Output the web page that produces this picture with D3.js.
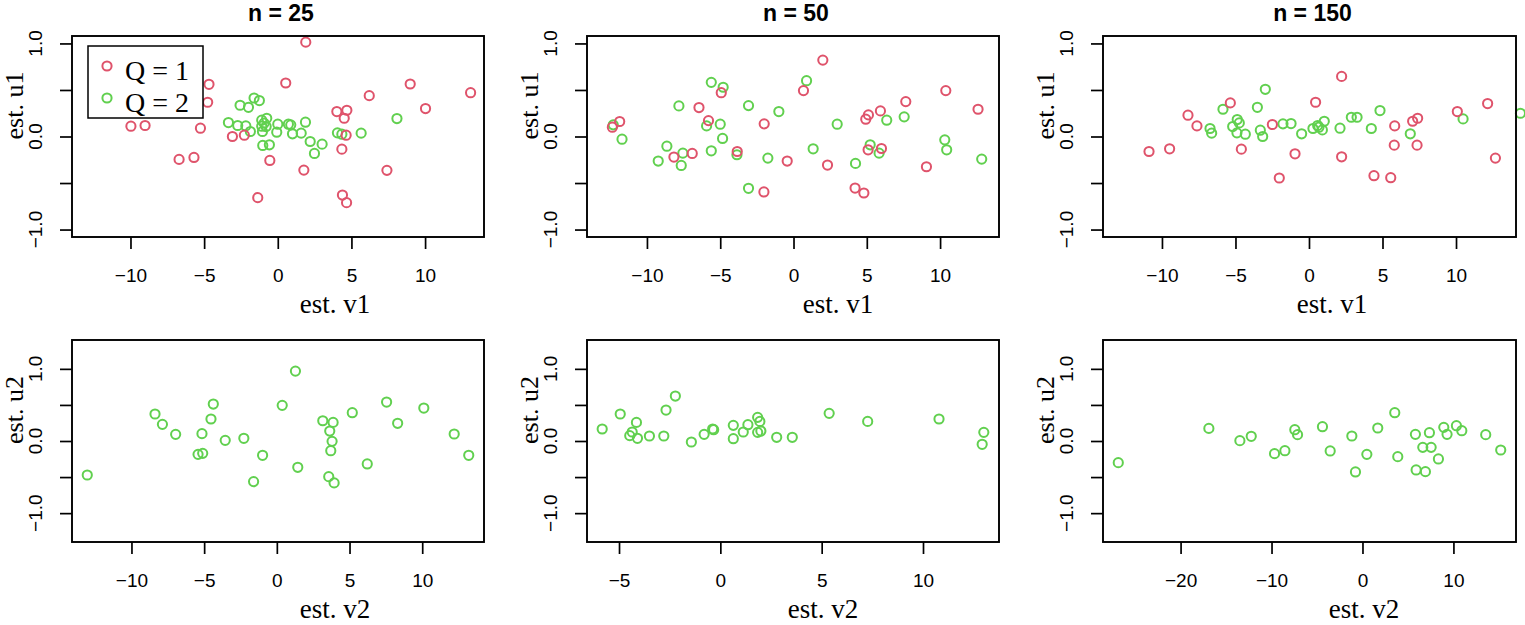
<!DOCTYPE html>
<html>
<head>
<meta charset="utf-8">
<script src="https://cdn.jsdelivr.net/npm/d3@7"></script>
<style>
  body { margin: 0; background: white; }
  svg { display: block; }
</style>
</head>
<body>
<div id="chart"></div>
<script>
// ---- data: [est. v, est. u] pairs ----

// n = 25, first component
const n25_u1_q1 = [[1.90,1.014],[-4.67,0.561],[-4.76,0.368],[0.54,0.575],[8.99,0.564],[13.09,0.471],
  [6.21,0.439],[10.03,0.300],[4.01,0.268],[4.69,0.282],[4.51,0.196],[-9.97,0.111],[-9.01,0.118],
  [-5.25,0.089],[-3.08,0.0],[-2.27,0.014],[4.64,0.014],[4.35,-0.136],[-6.70,-0.246],[-5.69,-0.225],
  [-0.54,-0.257],[1.77,-0.361],[7.41,-0.364],[-1.36,-0.657],[4.39,-0.629],[4.67,-0.711]];
const n25_u1_q2 = [[-1.61,0.414],[-1.25,0.386],[-2.56,0.336],[-1.99,0.314],[-3.35,0.150],[-2.72,0.118],
  [-2.17,0.114],[-1.86,0.054],[-1.09,0.175],[-0.75,0.196],[-1.09,0.111],[-0.79,0.107],[-1.04,0.054],
  [-0.93,0.143],[-0.07,0.046],[0.0,0.132],[0.72,0.132],[0.88,0.125],[1.00,0.029],[1.59,0.036],
  [1.88,0.154],[2.20,-0.054],[3.01,-0.082],[2.49,-0.182],[-1.02,-0.096],[-0.57,-0.089],[4.05,0.039],
  [4.35,0.025],[5.66,0.036],[8.09,0.193]];

// n = 50, first component
const n50_u1_q1 = [[2.00,0.821],[-4.93,0.471],[0.68,0.493],[10.39,0.493],[-6.45,0.311],[7.66,0.375],
  [12.59,0.293],[-11.86,0.161],[-12.36,0.100],[-5.80,0.171],[-2.00,0.136],[5.11,0.232],[4.93,0.186],
  [5.93,0.275],[-8.16,-0.221],[-6.91,-0.182],[-3.84,-0.161],[-0.43,-0.264],[2.32,-0.307],[5.09,-0.143],
  [6.00,-0.129],[9.07,-0.325],[4.20,-0.554],[4.80,-0.607],[-2.02,-0.596]];
const n50_u1_q2 = [[0.89,0.600],[-5.61,0.582],[-4.80,0.529],[-7.82,0.329],[-3.07,0.332],[-1.00,0.268],
  [-12.30,0.125],[-5.93,0.114],[-5.00,0.132],[2.98,0.132],[6.36,0.175],[7.55,0.211],[-11.70,-0.029],
  [-4.84,-0.021],[-8.64,-0.104],[-9.23,-0.264],[-7.55,-0.179],[-7.66,-0.311],[-5.61,-0.154],
  [-3.86,-0.196],[-1.75,-0.232],[1.34,-0.132],[4.23,-0.289],[5.23,-0.089],[5.84,-0.179],[10.32,-0.036],
  [10.45,-0.143],[12.84,-0.243],[-3.07,-0.557]];

// n = 150, first component
const n150_u1_q1 = [[2.22,0.646],[-5.35,0.361],[0.45,0.368],[12.15,0.354],[10.09,0.268],[-8.23,0.229],
  [-7.62,0.114],[-2.49,0.129],[5.83,0.114],[7.05,0.164],[7.39,0.196],[-10.88,-0.161],[-9.48,-0.132],
  [-4.60,-0.136],[-0.95,-0.186],[2.22,-0.218],[5.80,-0.093],[7.35,-0.093],[12.68,-0.232],[-2.02,-0.446],
  [4.42,-0.421],[5.56,-0.443]];
const n150_u1_q2 = [[-2.97,0.507],[-5.85,0.293],[-3.51,0.314],[4.83,0.279],[14.38,0.250],[-4.88,0.182],
  [-4.74,0.146],[-5.19,0.107],[-4.90,0.039],[-4.33,0.025],[-6.73,0.086],[-6.62,0.036],[-3.31,0.068],
  [-3.15,0.0],[-1.77,0.136],[-1.22,0.139],[-0.50,0.029],[0.27,0.086],[0.59,0.118],[0.68,0.100],
  [0.91,0.071],[1.04,0.164],[2.11,0.089],[2.88,0.207],[3.27,0.207],[4.24,0.086],[6.89,0.029],[10.48,0.189]];

// second component (Q = 2 only)
const n25_u2 = [[-13.04,-0.471],[-8.38,0.374],[-7.87,0.231],[-6.96,0.092],[-4.37,0.512],[-4.53,0.305],
  [-5.15,0.102],[-5.42,-0.185],[-5.10,-0.171],[-3.55,0.009],[-2.27,0.037],[-0.98,-0.198],[-1.60,-0.563],
  [0.37,0.494],[1.28,0.969],[1.44,-0.365],[3.16,0.281],[3.87,0.258],[3.64,0.138],[3.80,-0.005],
  [3.71,-0.134],[3.57,-0.494],[3.94,-0.581],[5.19,0.392],[7.55,0.540],[8.31,0.245],[6.22,-0.318],
  [10.11,0.457],[12.20,0.097],[13.20,-0.198]];
const n50_u2 = [[-5.83,0.166],[-4.94,0.374],[-4.14,0.258],[-4.35,0.125],[-4.47,0.074],[-4.09,0.037],
  [-3.50,0.069],[-2.79,0.069],[-2.68,0.429],[-2.22,0.623],[-1.43,-0.014],[-0.80,0.092],[-0.38,0.166],
  [-0.33,0.157],[0.64,0.217],[0.64,0.032],[1.13,0.125],[1.36,0.226],[1.84,0.328],[1.95,0.272],
  [1.84,0.120],[2.00,0.138],[2.78,0.051],[3.55,0.051],[5.37,0.383],[7.27,0.272],[10.79,0.305],
  [13.00,0.120],[12.92,-0.046]];
const n150_u2 = [[-26.85,-0.300],[-16.89,0.175],[-13.48,0.005],[-12.23,0.065],[-9.67,-0.175],[-8.53,-0.134],
  [-7.44,0.157],[-7.14,0.088],[-4.40,0.198],[-3.55,-0.138],[-1.17,0.069],[-0.77,-0.429],[0.48,-0.185],
  [1.68,0.180],[3.55,0.392],[3.88,-0.217],[5.82,0.092],[5.90,-0.401],[6.92,-0.425],[6.63,-0.088],
  [7.55,-0.088],[7.36,0.115],[8.35,-0.249],[8.94,0.189],[9.30,0.092],[10.33,0.212],[10.92,0.143],
  [13.55,0.088],[15.20,-0.125]];

const titles = ["n = 25", "n = 50", "n = 150"];
const legendLabels = ["Q = 1", "Q = 2"];
const yTicks = [-1, -0.5, 0, 0.5, 1];
const yLabelTicks = [-1, 0, 1];
const xTicksTop = [-10, -5, 0, 5, 10];
const xTicksBottom = [[-10, -5, 0, 5, 10], [-5, 0, 5, 10], [-20, -10, 0, 10]];
const xDomTop = [[-13.97, 14.0], [-14.09, 14.02], [-14.01, 14.08]];
const xDomBottom = [[-14.09, 14.25], [-6.58, 13.75], [-28.53, 16.88]];

const colQ1 = "#DF536B", colQ2 = "#61D04F";

// ---- layout ----
const W = 1525, H = 625;
const colX = [[72, 484], [587, 999], [1103, 1516]];
const rowY = [[36, 237], [340, 542]];
const xLabX = [[335, 838, 1332], [335, 823, 1364]];

const svg = d3.select("#chart").append("svg")
    .attr("width", W).attr("height", H);

function panel(col, row, series, xDom, xTicks, yDom, xlab, ylab) {
    let [x0, x1] = colX[col], [y0, y1] = rowY[row];
    let x = d3.scaleLinear().domain(xDom).range([x0, x1]);
    let y = d3.scaleLinear().domain(yDom).range([y1, y0]);
    let g = svg.append("g");

    // x axis
    let xa = g.append("g")
        .attr("transform", `translate(0,${y1})`)
        .call(d3.axisBottom(x).tickValues(xTicks).tickSize(12).tickPadding(20).tickFormat(d3.format("d")));
    xa.select(".domain").remove();
    xa.selectAll("line").attr("stroke", "black").attr("stroke-width", 1.7);
    xa.selectAll("text").attr("font-family", "Liberation Sans, Arial, sans-serif")
        .attr("font-size", 19).attr("fill", "black");

    // y axis, labels rotated like base R
    let ya = g.append("g")
        .attr("transform", `translate(${x0},0)`)
        .call(d3.axisLeft(y).tickValues(yTicks).tickSize(12).tickFormat(""));
    ya.select(".domain").remove();
    ya.selectAll("line").attr("stroke", "black").attr("stroke-width", 1.7);
    g.selectAll(".ylab")
        .data(yLabelTicks)
        .enter().append("text")
        .attr("transform", d => `translate(${x0 - 30},${y(d)}) rotate(-90)`)
        .attr("text-anchor", "middle")
        .attr("font-family", "Liberation Sans, Arial, sans-serif")
        .attr("font-size", 19)
        .text(d => d3.format(".1f")(d));

    // points
    series.forEach(s => {
        g.append("g").selectAll("circle")
            .data(s.data)
            .enter().append("circle")
            .attr("cx", d => x(d[0]))
            .attr("cy", d => y(d[1]))
            .attr("r", 4.6)
            .attr("fill", "none")
            .attr("stroke", s.color)
            .attr("stroke-width", 2);
    });

    // box
    g.append("rect")
        .attr("x", x0).attr("y", y0)
        .attr("width", x1 - x0).attr("height", y1 - y0)
        .attr("fill", "none").attr("stroke", "black").attr("stroke-width", 1.9);

    // axis titles
    g.append("text")
        .attr("x", xLabX[row][col]).attr("y", y1 + 76)
        .attr("text-anchor", "middle")
        .attr("font-family", "Liberation Serif, Times New Roman, serif")
        .attr("font-size", 27)
        .text(xlab);
    g.append("text")
        .attr("transform", `translate(${x0 - 49},${(y0 + y1) / 2 - 31}) rotate(-90)`)
        .attr("text-anchor", "middle")
        .attr("font-family", "Liberation Serif, Times New Roman, serif")
        .attr("font-size", 26)
        .text(ylab);

    if (row === 0) {
        g.append("text")
            .attr("x", (x0 + x1) / 2 + 3).attr("y", 21)
            .attr("text-anchor", "middle")
            .attr("font-family", "Liberation Sans, Arial, sans-serif")
            .attr("font-weight", "bold")
            .attr("font-size", 23)
            .text(titles[col]);
    }
    return g;
}

const topData = [[n25_u1_q1, n25_u1_q2], [n50_u1_q1, n50_u1_q2], [n150_u1_q1, n150_u1_q2]];
const bottomData = [n25_u2, n50_u2, n150_u2];

topData.forEach((d, i) => {
    panel(i, 0, [{data: d[1], color: colQ2}, {data: d[0], color: colQ1}],
        xDomTop[i], xTicksTop, [-1.08, 1.08], "est. v1", "est. u1");
});
bottomData.forEach((d, i) => {
    panel(i, 1, [{data: d, color: colQ2}],
        xDomBottom[i], xTicksBottom[i], [-1.4, 1.4], "est. v2", "est. u2");
});

// legend in the first panel
const leg = svg.append("g");
leg.append("rect")
    .attr("x", 88).attr("y", 46).attr("width", 115).attr("height", 72)
    .attr("fill", "white").attr("stroke", "black").attr("stroke-width", 1.5);
[colQ1, colQ2].forEach((c, i) => {
    leg.append("circle")
        .attr("cx", 107).attr("cy", 66 + i * 32)
        .attr("r", 4.6).attr("fill", "none")
        .attr("stroke", c).attr("stroke-width", 2);
    leg.append("text")
        .attr("x", 125).attr("y", 80 + i * 32)
        .attr("font-family", "Liberation Serif, Times New Roman, serif")
        .attr("font-size", 28)
        .text(legendLabels[i]);
});
</script>
</body>
</html>
